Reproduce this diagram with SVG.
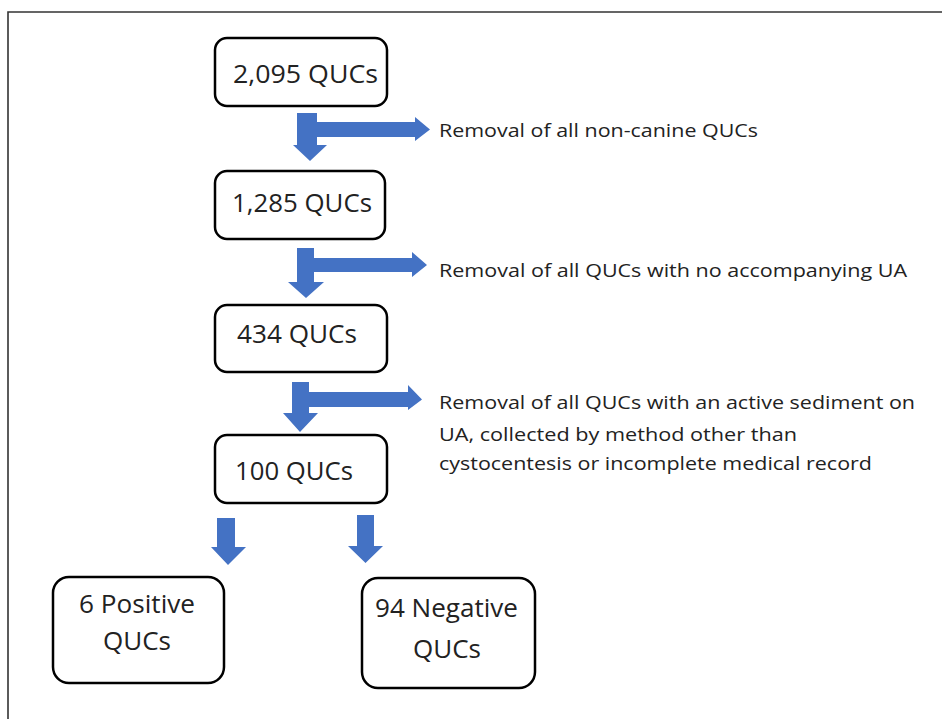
<svg xmlns="http://www.w3.org/2000/svg" width="942" height="719" viewBox="0 0 942 719">
<style>
.box{fill:#fff;stroke:#000;stroke-width:2.5}
.big{font-family:"Open Sans","Liberation Sans",sans-serif;font-size:26px;fill:#222}
.small{font-family:"Open Sans","Liberation Sans",sans-serif;font-size:19px;fill:#222}
.arr{fill:#4472C4}
</style>
<rect width="942" height="719" fill="#fff"/>
<path d="M8 719 V12 H942" fill="none" stroke="#333" stroke-width="1.6"/>
<g id="connectors">
<polygon class="arr" points="297,113 317,113 317,122 415,122 415,117 430,129.5 415,141 415,137 317,137 317,145 327,145 310,161 293,145 297,145"/>
<polygon class="arr" points="297,248 314,248 314,258 412,258 412,252 427,265 412,277 412,272 314,272 314,282 324,282 306,298 288,282 297,282"/>
<polygon class="arr" points="292,382 309,382 309,392 408,392 408,385 422,399.5 408,410 408,407 309,407 309,413 318,413 300,432 283,413 292,413"/>
<polygon class="arr" points="217,518 235,518 235,547 246,547 228,565 211,547 217,547"/>
<polygon class="arr" points="357,515 374,515 374,546 383,546 365.5,563 348,546 357,546"/>
</g>
<g id="n1"><rect class="box" x="215" y="38" width="172" height="68" rx="12"/><text class="big" x="233" y="83" textLength="145" lengthAdjust="spacingAndGlyphs">2,095 QUCs</text></g>
<g id="n2"><rect class="box" x="215" y="171" width="170" height="68" rx="12"/><text class="big" x="232" y="212" textLength="140" lengthAdjust="spacingAndGlyphs">1,285 QUCs</text></g>
<g id="n3"><rect class="box" x="215" y="305" width="172" height="67" rx="12"/><text class="big" x="237" y="343" textLength="120" lengthAdjust="spacingAndGlyphs">434 QUCs</text></g>
<g id="n4"><rect class="box" x="215" y="435" width="172" height="68" rx="12"/><text class="big" x="235" y="480" textLength="118" lengthAdjust="spacingAndGlyphs">100 QUCs</text></g>
<g id="n5"><rect class="box" x="53" y="577" width="171" height="106" rx="16"/><text class="big" x="79" y="613" textLength="116" lengthAdjust="spacingAndGlyphs">6 Positive</text><text class="big" x="137" y="650" text-anchor="middle">QUCs</text></g>
<g id="n6"><rect class="box" x="362" y="578" width="173" height="110" rx="16"/><text class="big" x="375" y="617" textLength="143" lengthAdjust="spacingAndGlyphs">94 Negative</text><text class="big" x="447" y="658" text-anchor="middle">QUCs</text></g>
<g id="labels">
<text class="small" x="439" y="137" textLength="319" lengthAdjust="spacingAndGlyphs">Removal of all non-canine QUCs</text>
<text class="small" x="439" y="277" textLength="468" lengthAdjust="spacingAndGlyphs">Removal of all QUCs with no accompanying UA</text>
<text class="small" x="439" y="409" textLength="476" lengthAdjust="spacingAndGlyphs">Removal of all QUCs with an active sediment on</text>
<text class="small" x="439" y="441" textLength="358" lengthAdjust="spacingAndGlyphs">UA, collected by method other than</text>
<text class="small" x="439" y="470" textLength="433" lengthAdjust="spacingAndGlyphs">cystocentesis or incomplete medical record</text>
</g>
</svg>
